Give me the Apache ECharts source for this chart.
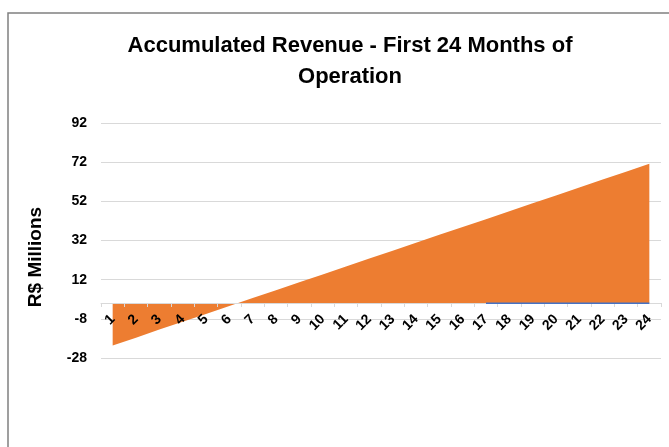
<!DOCTYPE html>
<html>
<head>
<meta charset="utf-8">
<script src="https://cdn.jsdelivr.net/npm/echarts@6/dist/echarts.min.js"></script>
<style>
  html, body { margin: 0; padding: 0; background: #fff; }
  #chart { width: 669px; height: 447px; }
</style>
</head>
<body>
<div id="chart"></div>
<script>
// months 1..24
const months = ["1","2","3","4","5","6","7","8","9","10","11","12","13","14","15","16","17","18","19","20","21","22","23","24"];
// accumulated revenue, R$ millions
const accumulated = [-21.6, -17.6, -13.5, -9.5, -5.5, -1.4, 2.6, 6.6, 10.7, 14.7, 18.7, 22.8,
  26.8, 30.8, 34.9, 38.9, 42.9, 47.0, 51.0, 55.0, 59.1, 63.1, 67.1, 71.2];
// second series, only visible as a thin line on the axis from month 17 on
const secondSeries = [null, null, null, null, null, null, null, null, null, null, null, null,
  null, null, null, null, 0, 0, 0, 0, 0, 0, 0, 0];
const yTicks = [-28, -8, 12, 32, 52, 72, 92];

const chart = echarts.init(document.getElementById("chart"));

const option = {
  animation: false,
  title: {
    text: "Accumulated Revenue - First 24 Months of\nOperation",
    left: 345,
    top: 25,
    textAlign: "center",
    textStyle: {
      fontFamily: "Liberation Sans",
      fontSize: 22,
      fontWeight: "bold",
      color: "#000",
      lineHeight: 31,
    },
  },
  graphic: [
    {
      type: "rect",
      shape: { x: 8, y: 13, width: 700, height: 500 },
      style: { fill: "none", stroke: "#808080", lineWidth: 1.5 },
      silent: true,
    },
    {
      type: "text",
      x: 36,
      y: 257,
      rotation: Math.PI / 2,
      style: {
        text: "R$ Millions",
        fontFamily: "Liberation Sans",
        fontSize: 19,
        fontWeight: "bold",
        fill: "#000",
        align: "center",
        verticalAlign: "middle",
      },
    },
  ],
  grid: {
    left: 101,
    right: 8,
    top: 123,
    bottom: 89,
    outerBoundsMode: "none",
  },
  xAxis: {
    type: "category",
    data: months,
    boundaryGap: true,
    // axis sits on the zero line, labels hang right under it
    offset: -55,
    axisLine: { onZero: false, lineStyle: { color: "#d9d9d9", width: 1 } },
    axisTick: { show: true, length: 4, lineStyle: { color: "#d9d9d9" } },
    axisLabel: {
      interval: 0,
      rotate: 45,
      margin: 14,
      fontFamily: "Liberation Sans",
      fontSize: 14,
      fontWeight: "bold",
      color: "#000",
    },
    splitLine: { show: false },
    z: 3,
  },
  yAxis: {
    type: "value",
    min: -28,
    max: 92,
    axisLine: { show: false },
    axisTick: { show: false, customValues: yTicks },
    axisLabel: {
      customValues: yTicks,
      margin: 14,
      fontFamily: "Liberation Sans",
      fontSize: 14,
      fontWeight: "bold",
      color: "#000",
    },
    splitLine: { show: true, lineStyle: { color: "#d9d9d9", width: 1 } },
  },
  series: [
    {
      name: "Accumulated Revenue",
      type: "line",
      data: accumulated,
      showSymbol: false,
      lineStyle: { width: 0 },
      itemStyle: { color: "#ED7D31" },
      areaStyle: { color: "#ED7D31", opacity: 1 },
      z: 2,
    },
    {
      name: "Second",
      type: "line",
      data: secondSeries,
      showSymbol: false,
      lineStyle: { width: 1.5, color: "#4472C4" },
      itemStyle: { color: "#4472C4" },
      z: 4,
    },
  ],
};

chart.setOption(option);
</script>
</body>
</html>
